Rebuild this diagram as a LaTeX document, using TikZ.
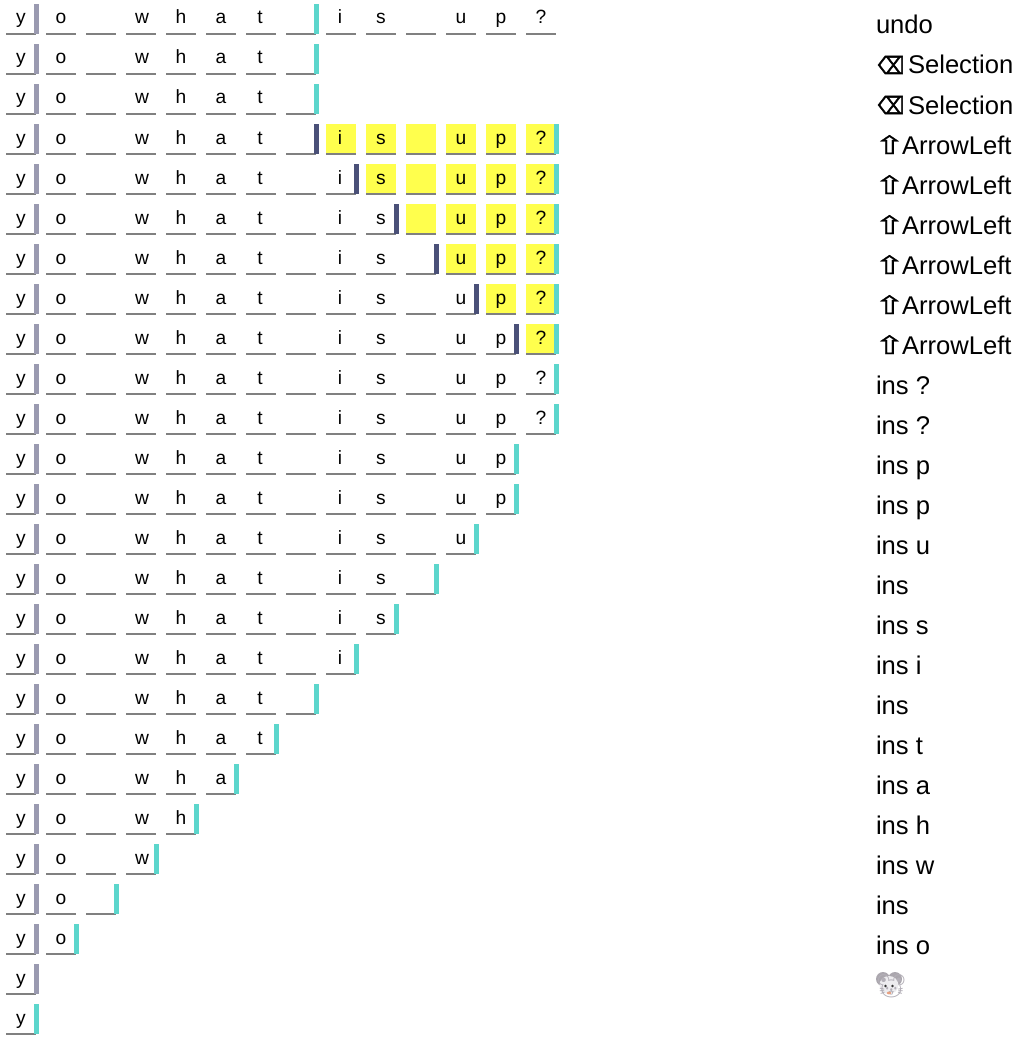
\documentclass[tikz,border=0pt]{standalone}
\usepackage{fontspec}
\usepackage{graphicx}
\setmainfont{Liberation Sans}
\newfontfamily\symfont[FakeBold=2.2]{DejaVu Sans}
\newfontfamily\shiftfont[FakeBold=0.9]{DejaVu Sans}
\newfontfamily\emojifont{Noto Emoji}
\usepackage{tikz}
\definecolor{caretteal}{HTML}{5CD6CC}
\definecolor{caretdark}{HTML}{4A5078}
\definecolor{caretgrey}{HTML}{9A9AB0}
\definecolor{selyellow}{HTML}{FFFF4D}
\definecolor{rulegrey}{HTML}{808080}
\definecolor{mouseear}{HTML}{ABA7AE}
\definecolor{mousehead}{HTML}{EDECEF}
\definecolor{mouseline}{HTML}{B4B0B8}
\definecolor{mousenose}{HTML}{E8A080}
\newcommand{\delkey}{\makebox[32pt][l]{\hspace{2pt}\resizebox{26pt}{18pt}{\symfont ⌫}}}
\newcommand{\shiftkey}{\makebox[26pt][l]{\hspace{-2pt}\resizebox{31pt}{19pt}{\shiftfont ⇧}}}
\newcommand{\mousekey}{{\emojifont\color{mouseline}\fontsize{24}{24}\selectfont 🐭}}
\tikzset{
  charcell/.style={minimum width=30pt, minimum height=30pt, inner sep=0, outer sep=0,
    text height=20pt, text depth=10pt, font=\fontsize{19.2}{19.2}\selectfont},
  selcell/.style={charcell, fill=selyellow},
  caretbar/.style={minimum width=5pt, minimum height=30pt, inner sep=0, outer sep=0},
  underrule/.style={draw=rulegrey, line width=2pt},
  oplabel/.style={anchor=base west, inner sep=0, outer sep=0, font=\fontsize{25.6}{25.6}\selectfont}
}
\begin{document}
\begin{tikzpicture}[x=1pt, y=-1pt]
  \useasboundingbox (0,0) rectangle (1030,1046);
  % mouse face under the glyph of the last key
  \fill[mouseear] (883,979) circle (7) (895,979) circle (7);
  \fill[mousehead] (889,985) ellipse (9.5 and 9);
  % row / last cell / first selected / dark caret / teal caret / key
  \foreach \r/\n/\s/\d/\c/\op in {
      0/13/99/99/7/undo,
      1/7/99/99/7/{\delkey Selection},
      2/7/99/99/7/{\delkey Selection},
      3/13/8/7/13/{\shiftkey ArrowLeft},
      4/13/9/8/13/{\shiftkey ArrowLeft},
      5/13/10/9/13/{\shiftkey ArrowLeft},
      6/13/11/10/13/{\shiftkey ArrowLeft},
      7/13/12/11/13/{\shiftkey ArrowLeft},
      8/13/13/12/13/{\shiftkey ArrowLeft},
      9/13/99/99/13/ins ?,
      10/13/99/99/13/ins ?,
      11/12/99/99/12/ins p,
      12/12/99/99/12/ins p,
      13/11/99/99/11/ins u,
      14/10/99/99/10/ins,
      15/9/99/99/9/ins s,
      16/8/99/99/8/ins i,
      17/7/99/99/7/ins,
      18/6/99/99/6/ins t,
      19/5/99/99/5/ins a,
      20/4/99/99/4/ins h,
      21/3/99/99/3/ins w,
      22/2/99/99/2/ins,
      23/1/99/99/1/ins o,
      24/0/99/99/99/\mousekey,
      25/0/99/99/0/{}} {
    \foreach \i/\ch/\off in {0/y/0,1/o/0,2/{}/0,3/w/2,4/h/0,5/a/0,6/t/-2,7/{}/0,8/i/-2,9/s/0,10/{}/0,11/u/0,12/p/0,13/?/0} {
      \ifnum\i>\n\relax\else
        \ifnum\i<\s\relax
          \node[charcell] (c\r-\i) at (21+40*\i,19+40*\r) {\hspace*{\off pt}\ch};
        \else
          \node[selcell] (c\r-\i) at (21+40*\i,19+40*\r) {\hspace*{\off pt}\ch};
        \fi
        \draw[underrule] ([yshift=-0.3pt]c\r-\i.south west) -- ([yshift=-0.3pt]c\r-\i.south east);
      \fi
    }
    \ifnum\r<25\relax
      \node[caretbar, fill=caretgrey] (g\r) at (36.5,19+40*\r) {};
    \fi
    \ifnum\d<99\relax
      \node[caretbar, fill=caretdark] (d\r) at (36.5+40*\d,19+40*\r) {};
    \fi
    \ifnum\c<99\relax
      \node[caretbar, fill=caretteal] (t\r) at (36.5+40*\c,19+40*\r) {};
    \fi
    \node[oplabel] (l\r) at (876,34+40*\r) {\op};
  }
  % eyes and nose on top of the glyph
  \fill[black!80] (885.5,986) circle (1.4) (892.5,986) circle (1.4);
  \fill[mousenose] (889,993) ellipse (2.2 and 1.4);
\end{tikzpicture}
\end{document}
